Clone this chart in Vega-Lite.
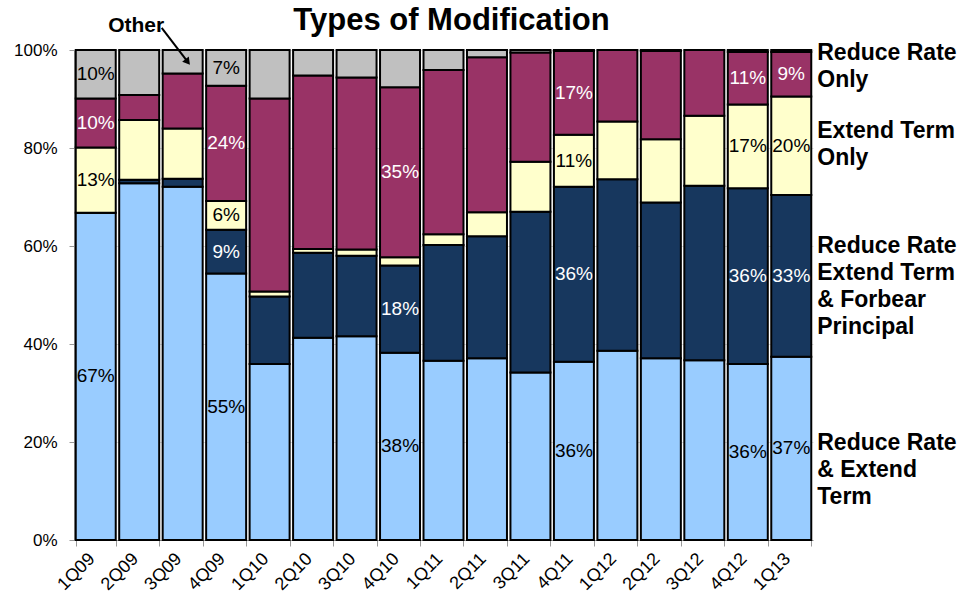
{
  "$schema": "https://vega.github.io/schema/vega-lite/v6.json",
  "width": 739,
  "height": 490,
  "autosize": {"type": "none"},
  "padding": {"left": 74, "top": 50, "right": 149, "bottom": 60},
  "background": "white",
  "title": {"text": "Types of Modification", "fontSize": 31, "font": "Liberation Sans", "fontWeight": "bold", "color": "black", "offset": -22, "dx": 8, "anchor": "middle"},
  "config": {"view": {"stroke": null}, "font": "Liberation Sans", "text": {"font": "Liberation Sans"}},
  "datasets": {
    "mods": [
      {"q": "1Q09", "s": "Reduce Rate & Extend Term", "r": 1, "v": 66.8, "lab": "67%"},
      {"q": "1Q09", "s": "Reduce Rate Extend Term & Forbear Principal", "r": 2, "v": 0, "lab": ""},
      {"q": "1Q09", "s": "Extend Term Only", "r": 3, "v": 13.3, "lab": "13%"},
      {"q": "1Q09", "s": "Reduce Rate Only", "r": 4, "v": 10.0, "lab": "10%"},
      {"q": "1Q09", "s": "Other", "r": 5, "v": 9.9, "lab": "10%"},
      {"q": "2Q09", "s": "Reduce Rate & Extend Term", "r": 1, "v": 72.8, "lab": ""},
      {"q": "2Q09", "s": "Reduce Rate Extend Term & Forbear Principal", "r": 2, "v": 0.7, "lab": ""},
      {"q": "2Q09", "s": "Extend Term Only", "r": 3, "v": 12.2, "lab": ""},
      {"q": "2Q09", "s": "Reduce Rate Only", "r": 4, "v": 5.1, "lab": ""},
      {"q": "2Q09", "s": "Other", "r": 5, "v": 9.2, "lab": ""},
      {"q": "3Q09", "s": "Reduce Rate & Extend Term", "r": 1, "v": 72.1, "lab": ""},
      {"q": "3Q09", "s": "Reduce Rate Extend Term & Forbear Principal", "r": 2, "v": 1.6, "lab": ""},
      {"q": "3Q09", "s": "Extend Term Only", "r": 3, "v": 10.3, "lab": ""},
      {"q": "3Q09", "s": "Reduce Rate Only", "r": 4, "v": 11.2, "lab": ""},
      {"q": "3Q09", "s": "Other", "r": 5, "v": 4.8, "lab": ""},
      {"q": "4Q09", "s": "Reduce Rate & Extend Term", "r": 1, "v": 54.4, "lab": "55%"},
      {"q": "4Q09", "s": "Reduce Rate Extend Term & Forbear Principal", "r": 2, "v": 8.9, "lab": "9%"},
      {"q": "4Q09", "s": "Extend Term Only", "r": 3, "v": 5.9, "lab": "6%"},
      {"q": "4Q09", "s": "Reduce Rate Only", "r": 4, "v": 23.5, "lab": "24%"},
      {"q": "4Q09", "s": "Other", "r": 5, "v": 7.3, "lab": "7%"},
      {"q": "1Q10", "s": "Reduce Rate & Extend Term", "r": 1, "v": 35.9, "lab": ""},
      {"q": "1Q10", "s": "Reduce Rate Extend Term & Forbear Principal", "r": 2, "v": 13.8, "lab": ""},
      {"q": "1Q10", "s": "Extend Term Only", "r": 3, "v": 1.0, "lab": ""},
      {"q": "1Q10", "s": "Reduce Rate Only", "r": 4, "v": 39.4, "lab": ""},
      {"q": "1Q10", "s": "Other", "r": 5, "v": 9.9, "lab": ""},
      {"q": "2Q10", "s": "Reduce Rate & Extend Term", "r": 1, "v": 41.3, "lab": ""},
      {"q": "2Q10", "s": "Reduce Rate Extend Term & Forbear Principal", "r": 2, "v": 17.3, "lab": ""},
      {"q": "2Q10", "s": "Extend Term Only", "r": 3, "v": 0.8, "lab": ""},
      {"q": "2Q10", "s": "Reduce Rate Only", "r": 4, "v": 35.4, "lab": ""},
      {"q": "2Q10", "s": "Other", "r": 5, "v": 5.2, "lab": ""},
      {"q": "3Q10", "s": "Reduce Rate & Extend Term", "r": 1, "v": 41.6, "lab": ""},
      {"q": "3Q10", "s": "Reduce Rate Extend Term & Forbear Principal", "r": 2, "v": 16.4, "lab": ""},
      {"q": "3Q10", "s": "Extend Term Only", "r": 3, "v": 1.3, "lab": ""},
      {"q": "3Q10", "s": "Reduce Rate Only", "r": 4, "v": 35.1, "lab": ""},
      {"q": "3Q10", "s": "Other", "r": 5, "v": 5.6, "lab": ""},
      {"q": "4Q10", "s": "Reduce Rate & Extend Term", "r": 1, "v": 38.2, "lab": "38%"},
      {"q": "4Q10", "s": "Reduce Rate Extend Term & Forbear Principal", "r": 2, "v": 17.8, "lab": "18%"},
      {"q": "4Q10", "s": "Extend Term Only", "r": 3, "v": 1.7, "lab": ""},
      {"q": "4Q10", "s": "Reduce Rate Only", "r": 4, "v": 34.7, "lab": "35%"},
      {"q": "4Q10", "s": "Other", "r": 5, "v": 7.6, "lab": ""},
      {"q": "1Q11", "s": "Reduce Rate & Extend Term", "r": 1, "v": 36.6, "lab": ""},
      {"q": "1Q11", "s": "Reduce Rate Extend Term & Forbear Principal", "r": 2, "v": 23.6, "lab": ""},
      {"q": "1Q11", "s": "Extend Term Only", "r": 3, "v": 2.2, "lab": ""},
      {"q": "1Q11", "s": "Reduce Rate Only", "r": 4, "v": 33.5, "lab": ""},
      {"q": "1Q11", "s": "Other", "r": 5, "v": 4.1, "lab": ""},
      {"q": "2Q11", "s": "Reduce Rate & Extend Term", "r": 1, "v": 37.1, "lab": ""},
      {"q": "2Q11", "s": "Reduce Rate Extend Term & Forbear Principal", "r": 2, "v": 24.9, "lab": ""},
      {"q": "2Q11", "s": "Extend Term Only", "r": 3, "v": 4.9, "lab": ""},
      {"q": "2Q11", "s": "Reduce Rate Only", "r": 4, "v": 31.6, "lab": ""},
      {"q": "2Q11", "s": "Other", "r": 5, "v": 1.5, "lab": ""},
      {"q": "3Q11", "s": "Reduce Rate & Extend Term", "r": 1, "v": 34.2, "lab": ""},
      {"q": "3Q11", "s": "Reduce Rate Extend Term & Forbear Principal", "r": 2, "v": 32.8, "lab": ""},
      {"q": "3Q11", "s": "Extend Term Only", "r": 3, "v": 10.2, "lab": ""},
      {"q": "3Q11", "s": "Reduce Rate Only", "r": 4, "v": 22.3, "lab": ""},
      {"q": "3Q11", "s": "Other", "r": 5, "v": 0.5, "lab": ""},
      {"q": "4Q11", "s": "Reduce Rate & Extend Term", "r": 1, "v": 36.4, "lab": "36%"},
      {"q": "4Q11", "s": "Reduce Rate Extend Term & Forbear Principal", "r": 2, "v": 35.7, "lab": "36%"},
      {"q": "4Q11", "s": "Extend Term Only", "r": 3, "v": 10.6, "lab": "11%"},
      {"q": "4Q11", "s": "Reduce Rate Only", "r": 4, "v": 17.1, "lab": "17%"},
      {"q": "4Q11", "s": "Other", "r": 5, "v": 0.2, "lab": ""},
      {"q": "1Q12", "s": "Reduce Rate & Extend Term", "r": 1, "v": 38.6, "lab": ""},
      {"q": "1Q12", "s": "Reduce Rate Extend Term & Forbear Principal", "r": 2, "v": 35.0, "lab": ""},
      {"q": "1Q12", "s": "Extend Term Only", "r": 3, "v": 11.8, "lab": ""},
      {"q": "1Q12", "s": "Reduce Rate Only", "r": 4, "v": 14.6, "lab": ""},
      {"q": "1Q12", "s": "Other", "r": 5, "v": 0, "lab": ""},
      {"q": "2Q12", "s": "Reduce Rate & Extend Term", "r": 1, "v": 37.1, "lab": ""},
      {"q": "2Q12", "s": "Reduce Rate Extend Term & Forbear Principal", "r": 2, "v": 31.8, "lab": ""},
      {"q": "2Q12", "s": "Extend Term Only", "r": 3, "v": 12.9, "lab": ""},
      {"q": "2Q12", "s": "Reduce Rate Only", "r": 4, "v": 18.0, "lab": ""},
      {"q": "2Q12", "s": "Other", "r": 5, "v": 0.2, "lab": ""},
      {"q": "3Q12", "s": "Reduce Rate & Extend Term", "r": 1, "v": 36.7, "lab": ""},
      {"q": "3Q12", "s": "Reduce Rate Extend Term & Forbear Principal", "r": 2, "v": 35.6, "lab": ""},
      {"q": "3Q12", "s": "Extend Term Only", "r": 3, "v": 14.3, "lab": ""},
      {"q": "3Q12", "s": "Reduce Rate Only", "r": 4, "v": 13.4, "lab": ""},
      {"q": "3Q12", "s": "Other", "r": 5, "v": 0, "lab": ""},
      {"q": "4Q12", "s": "Reduce Rate & Extend Term", "r": 1, "v": 35.9, "lab": "36%"},
      {"q": "4Q12", "s": "Reduce Rate Extend Term & Forbear Principal", "r": 2, "v": 35.9, "lab": "36%"},
      {"q": "4Q12", "s": "Extend Term Only", "r": 3, "v": 17.1, "lab": "17%"},
      {"q": "4Q12", "s": "Reduce Rate Only", "r": 4, "v": 10.7, "lab": "11%"},
      {"q": "4Q12", "s": "Other", "r": 5, "v": 0.4, "lab": ""},
      {"q": "1Q13", "s": "Reduce Rate & Extend Term", "r": 1, "v": 37.4, "lab": "37%"},
      {"q": "1Q13", "s": "Reduce Rate Extend Term & Forbear Principal", "r": 2, "v": 33.0, "lab": "33%"},
      {"q": "1Q13", "s": "Extend Term Only", "r": 3, "v": 20.1, "lab": "20%"},
      {"q": "1Q13", "s": "Reduce Rate Only", "r": 4, "v": 9.1, "lab": "9%"},
      {"q": "1Q13", "s": "Other", "r": 5, "v": 0.4, "lab": ""}
    ]
  },
  "data": {"name": "mods"},
  "layer": [
    {
      "mark": {"type": "bar", "stroke": "black", "strokeWidth": 2},
      "encoding": {
        "x": {
          "field": "q", "type": "nominal",
          "sort": ["1Q09","2Q09","3Q09","4Q09","1Q10","2Q10","3Q10","4Q10","1Q11","2Q11","3Q11","4Q11","1Q12","2Q12","3Q12","4Q12","1Q13"],
          "scale": {"paddingInner": 0.08, "paddingOuter": 0.04},
          "axis": {"title": null, "labelAngle": -45, "labelAlign": "right", "labelBaseline": "middle", "labelFontSize": 18, "labelColor": "black", "labelFont": "Liberation Sans", "labelOffset": -4, "tickBand": "extent", "tickSize": 6, "tickColor": "#999999", "domainColor": "#999999", "labelPadding": 10}
        },
        "y": {
          "field": "v", "type": "quantitative", "stack": "normalize",
          "scale": {"domain": [0, 1], "nice": false},
          "axis": {"title": null, "format": ".0%", "values": [0, 0.2, 0.4, 0.6, 0.8, 1], "labelFontSize": 17, "labelColor": "black", "labelFont": "Liberation Sans", "grid": true, "gridColor": "#dddddd", "tickColor": "#999999", "domainColor": "#999999", "tickSize": 5, "labelPadding": 12}
        },
        "color": {
          "field": "s", "type": "nominal", "legend": null,
          "scale": {
            "domain": ["Reduce Rate & Extend Term", "Reduce Rate Extend Term & Forbear Principal", "Extend Term Only", "Reduce Rate Only", "Other"],
            "range": ["#99CCFF", "#17375E", "#FFFFCC", "#993366", "#C0C0C0"]
          }
        },
        "order": {"field": "r", "type": "quantitative"}
      }
    },
    {
      "mark": {"type": "text", "fontSize": 19, "baseline": "middle", "align": "center", "font": "Liberation Sans"},
      "encoding": {
        "x": {"field": "q", "type": "nominal", "sort": ["1Q09","2Q09","3Q09","4Q09","1Q10","2Q10","3Q10","4Q10","1Q11","2Q11","3Q11","4Q11","1Q12","2Q12","3Q12","4Q12","1Q13"]},
        "y": {"field": "v", "type": "quantitative", "stack": "normalize", "bandPosition": 0.5},
        "order": {"field": "r", "type": "quantitative"},
        "text": {"field": "lab"},
        "color": {"condition": {"test": "datum.r == 2 || datum.r == 4", "value": "white"}, "value": "black"}
      }
    },
    {
      "data": {"values": [{}]},
      "mark": {"type": "text", "text": ["Reduce Rate", "Only"], "align": "left", "baseline": "alphabetic", "fontSize": 23, "fontWeight": "bold", "lineHeight": 27, "dx": 26, "color": "black", "font": "Liberation Sans"},
      "encoding": {"x": {"datum": "1Q13"}, "y": {"datum": 0.9796}}
    },
    {
      "data": {"values": [{}]},
      "mark": {"type": "text", "text": ["Extend Term", "Only"], "align": "left", "baseline": "alphabetic", "fontSize": 23, "fontWeight": "bold", "lineHeight": 27, "dx": 26, "color": "black", "font": "Liberation Sans"},
      "encoding": {"x": {"datum": "1Q13"}, "y": {"datum": 0.8204}}
    },
    {
      "data": {"values": [{}]},
      "mark": {"type": "text", "text": ["Reduce Rate", "Extend Term", "& Forbear", "Principal"], "align": "left", "baseline": "alphabetic", "fontSize": 23, "fontWeight": "bold", "lineHeight": 27, "dx": 26, "color": "black", "font": "Liberation Sans"},
      "encoding": {"x": {"datum": "1Q13"}, "y": {"datum": 0.5857}}
    },
    {
      "data": {"values": [{}]},
      "mark": {"type": "text", "text": ["Reduce Rate", "& Extend", "Term"], "align": "left", "baseline": "alphabetic", "fontSize": 23, "fontWeight": "bold", "lineHeight": 27, "dx": 26, "color": "black", "font": "Liberation Sans"},
      "encoding": {"x": {"datum": "1Q13"}, "y": {"datum": 0.1837}}
    },
    {
      "data": {"values": [{}]},
      "mark": {"type": "text", "text": "Other", "align": "center", "baseline": "alphabetic", "fontSize": 21, "fontWeight": "bold", "dx": -3, "color": "black", "font": "Liberation Sans"},
      "encoding": {"x": {"datum": "2Q09"}, "y": {"datum": 1.037}}
    },
    {
      "data": {"values": [{}]},
      "mark": {"type": "rule", "strokeWidth": 2, "color": "black", "xOffset": 22.5, "x2Offset": 4.3},
      "encoding": {"x": {"datum": "2Q09"}, "x2": {"datum": "3Q09"}, "y": {"datum": 1.045}, "y2": {"datum": 0.9776}}
    },
    {
      "data": {"values": [{}]},
      "mark": {"type": "point", "shape": "triangle", "filled": true, "color": "black", "opacity": 1, "size": 70, "angle": 142, "xOffset": 4.3},
      "encoding": {"x": {"datum": "3Q09"}, "y": {"datum": 0.9776}}
    }
  ]
}
